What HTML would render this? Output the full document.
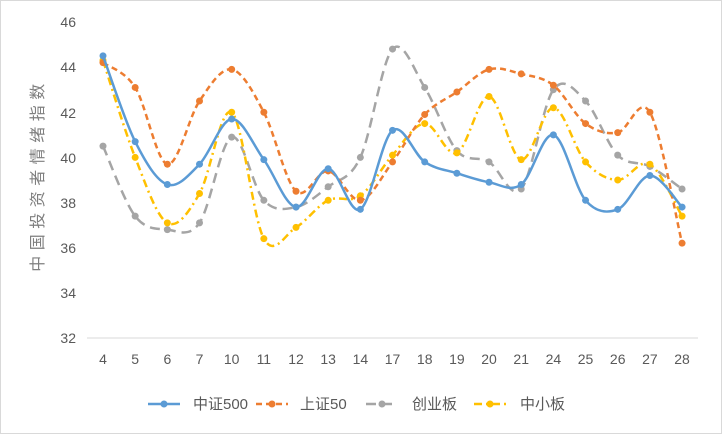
<!DOCTYPE html>
<html><head><meta charset="utf-8"><style>
body{margin:0;background:#fff}
svg{display:block;font-family:"Liberation Sans","Noto Sans CJK SC",sans-serif}
</style></head><body>
<svg id="s" width="722" height="434" xmlns="http://www.w3.org/2000/svg">
<rect x="0.5" y="0.5" width="721" height="433" fill="#fff" stroke="#d9d9d9"/>
<line x1="87" y1="338" x2="698" y2="338" stroke="#d9d9d9"/>
<g font-size="14" fill="#595959" text-anchor="end">
<text x="76" y="27">46</text><text x="76" y="72">44</text><text x="76" y="118">42</text><text x="76" y="163">40</text><text x="76" y="208">38</text><text x="76" y="253">36</text><text x="76" y="298">34</text><text x="76" y="343">32</text>
</g>
<g id="xl" font-size="14" fill="#595959" text-anchor="middle"></g>
<text transform="translate(43,175) rotate(-90)" font-size="16" letter-spacing="5.5" fill="#7f7f7f" text-anchor="middle">中国投资者情绪指数</text>
<g id="series"></g>
<g font-size="15" fill="#595959">
<line x1="148" y1="404" x2="180" y2="404" stroke="#5b9bd5" stroke-width="2.5"/><circle cx="164" cy="404" r="3.5" fill="#5b9bd5"/><text x="193" y="409">中证500</text>
<line x1="256" y1="404" x2="288" y2="404" stroke="#ed7d31" stroke-width="2.5" stroke-dasharray="6,4"/><circle cx="272" cy="404" r="3.5" fill="#ed7d31"/><text x="300" y="409">上证50</text>
<line x1="366" y1="404" x2="398" y2="404" stroke="#a5a5a5" stroke-width="2.5" stroke-dasharray="10,6"/><circle cx="382" cy="404" r="3.5" fill="#a5a5a5"/><text x="412" y="409">创业板</text>
<line x1="474" y1="404" x2="506" y2="404" stroke="#ffc000" stroke-width="2.5" stroke-dasharray="8,4,2,4"/><circle cx="490" cy="404" r="3.5" fill="#ffc000"/><text x="520" y="409">中小板</text>
</g>
</svg>
<script>
var cats=[4,5,6,7,10,11,12,13,14,17,18,19,20,21,24,25,26,27,28];
var S=[
["#a5a5a5","10,6",[40.5,37.4,36.8,37.1,40.9,38.1,37.8,38.7,40.0,44.8,43.1,40.3,39.8,38.6,43.0,42.5,40.1,39.6,38.6]],
["#ffc000","8,4,2,4",[44.3,40.0,37.1,38.4,42.0,36.4,36.9,38.1,38.3,40.1,41.5,40.2,42.7,39.9,42.2,39.8,39.0,39.7,37.4]],
["#ed7d31","6,4",[44.2,43.1,39.7,42.5,43.9,42.0,38.5,39.4,38.1,39.8,41.9,42.9,43.9,43.7,43.2,41.5,41.1,42.0,36.2]],
["#5b9bd5","",[44.5,40.7,38.8,39.7,41.7,39.9,37.8,39.5,37.7,41.2,39.8,39.3,38.9,38.8,41.0,38.1,37.7,39.2,37.8]]
];
function X(i){return 103+i*32.17}function Y(v){return 22+(46-v)*22.57}
var ns="http://www.w3.org/2000/svg",g=document.getElementById("series"),xl=document.getElementById("xl");
cats.forEach(function(c,i){var t=document.createElementNS(ns,"text");t.setAttribute("x",X(i));t.setAttribute("y",364);t.textContent=c;xl.appendChild(t);});
S.forEach(function(s){var p=s[2].map(function(v,i){return[X(i),Y(v)]});var d="M"+p[0];
for(var i=0;i<p.length-1;i++){var p0=p[i-1]||p[i],p1=p[i],p2=p[i+1],p3=p[i+2]||p2,k=1/6;
d+="C"+(p1[0]+(p2[0]-p0[0])*k)+","+(p1[1]+(p2[1]-p0[1])*k)+" "+(p2[0]-(p3[0]-p1[0])*k)+","+(p2[1]-(p3[1]-p1[1])*k)+" "+p2;}
var pa=document.createElementNS(ns,"path");pa.setAttribute("d",d);pa.setAttribute("fill","none");pa.setAttribute("stroke",s[0]);pa.setAttribute("stroke-width","2.5");if(s[1])pa.setAttribute("stroke-dasharray",s[1]);g.appendChild(pa);
p.forEach(function(q){var c=document.createElementNS(ns,"circle");c.setAttribute("cx",q[0]);c.setAttribute("cy",q[1]);c.setAttribute("r",3.5);c.setAttribute("fill",s[0]);g.appendChild(c);});});
</script>
</body></html>
